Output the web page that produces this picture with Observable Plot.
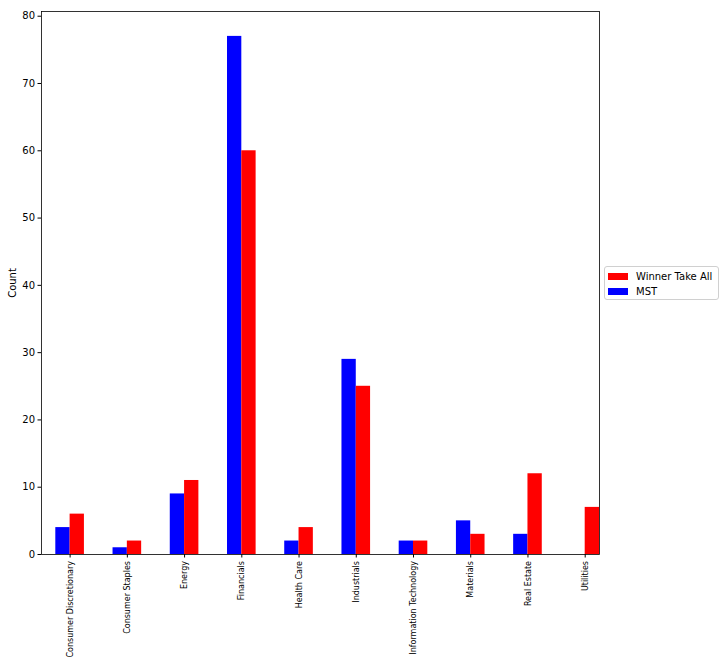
<!DOCTYPE html>
<html>
<head>
<meta charset="utf-8">
<script src="https://cdn.jsdelivr.net/npm/d3@7"></script>
<script src="https://cdn.jsdelivr.net/npm/@observablehq/plot@0.6"></script>
<style>
  body { margin: 0; background: #fff; font-family: "DejaVu Sans", sans-serif; }
  #wrap { position: relative; width: 725px; height: 666px; }
  #legend { position: absolute; left: 604px; top: 266px; width: 113px; height: 32px; border: 1px solid #d0d0d0; border-radius: 3px; background: #fff; font-size: 10px; color: #000; }
  .item { position: absolute; left: 3px; height: 14px; display: flex; align-items: center; }
  .sw { width: 20px; height: 7px; margin-right: 8px; }
</style>
</head>
<body>
<div id="wrap"></div>
<script>
const categories = ["Consumer Discretionary", "Consumer Staples", "Energy", "Financials", "Health Care", "Industrials", "Information Technology", "Materials", "Real Estate", "Utilities"];
const mstValues = [4, 1, 9, 77, 2, 29, 2, 5, 3, 0];
const wtaValues = [6, 2, 11, 60, 4, 25, 2, 3, 12, 7];
const seriesNames = ["Winner Take All", "MST"];
const seriesColors = ["#ff0000", "#0000ff"];
const yTicks = [0, 10, 20, 30, 40, 50, 60, 70, 80];

const data = categories.flatMap((c, i) => [
  {cat: c, series: "MST", value: mstValues[i], x1: i - 0.25, x2: i},
  {cat: c, series: "Winner Take All", value: wtaValues[i], x1: i, x2: i + 0.25}
]);

const chart = Plot.plot({
  width: 725,
  height: 666,
  marginLeft: 41,
  marginRight: 126,
  marginTop: 11,
  marginBottom: 112,
  style: {fontFamily: "DejaVu Sans", background: "#fff", color: "#000"},
  x: {type: "linear", domain: [-0.5, 9.25]},
  y: {domain: [0, 80.7]},
  color: {domain: seriesNames, range: seriesColors},
  marks: [
    Plot.rectY(data, {x1: "x1", x2: "x2", y: "value", fill: "series"}),
    Plot.axisY({ticks: yTicks, tickSize: 3.5, tickPadding: 3, fontSize: 10, label: "Count", labelAnchor: "center", labelArrow: "none", labelOffset: 33}),
    Plot.axisX({ticks: d3.range(categories.length), tickFormat: i => categories[i], tickRotate: -90, tickSize: 3.5, tickPadding: 3, fontSize: 8, label: null}),
    Plot.frame({stroke: "#000", strokeWidth: 0.8})
  ]
});
const wrap = document.getElementById("wrap");
wrap.appendChild(chart);

const legend = document.createElement("div");
legend.id = "legend";
seriesNames.forEach((name, k) => {
  const item = document.createElement("div");
  item.className = "item";
  item.style.top = (2 + k * 15) + "px";
  const sw = document.createElement("span");
  sw.className = "sw";
  sw.style.background = seriesColors[k];
  const t = document.createElement("span");
  t.textContent = name;
  item.appendChild(sw);
  item.appendChild(t);
  legend.appendChild(item);
});
wrap.appendChild(legend);
</script>
</body>
</html>
